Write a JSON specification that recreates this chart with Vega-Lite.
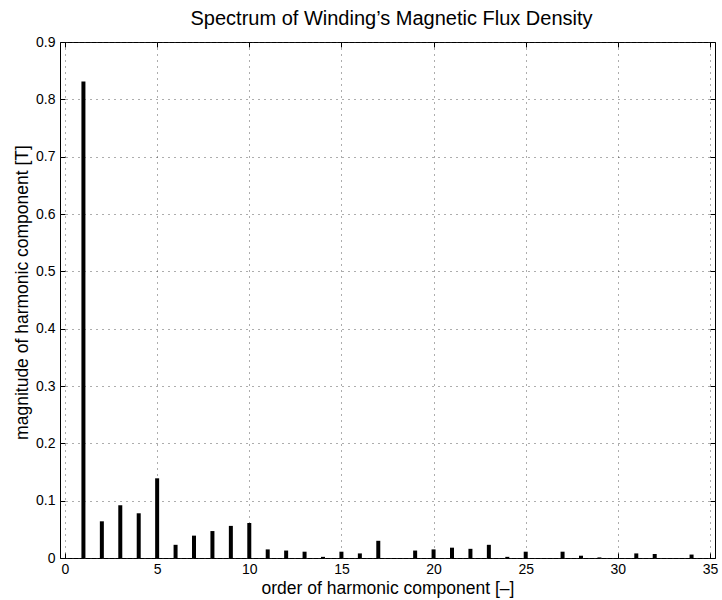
{
  "$schema": "https://vega.github.io/schema/vega-lite/v6.json",
  "width": 655,
  "height": 516,
  "autosize": {"type": "none"},
  "padding": {"left": 60, "top": 42, "right": 7, "bottom": 42},
  "background": "white",
  "config": {
    "font": "Liberation Sans",
    "view": {"stroke": "black", "strokeWidth": 1},
    "axis": {
      "labelFont": "Liberation Sans",
      "titleFont": "Liberation Sans",
      "labelFontSize": 14,
      "titleFontSize": 17.5,
      "labelColor": "black",
      "titleColor": "black",
      "titleFontWeight": "normal",
      "domain": false,
      "tickColor": "black",
      "tickSize": -5,
      "gridColor": "#333333",
      "gridDash": [1, 5],
      "gridOpacity": 0.8,
      "gridWidth": 1
    }
  },
  "title": {
    "text": "Spectrum of Winding’s Magnetic Flux Density",
    "font": "Liberation Sans",
    "fontSize": 20,
    "fontWeight": "normal",
    "color": "black",
    "offset": 6,
    "dx": 4,
    "anchor": "middle"
  },
  "data": {
    "values": [
      {"order": 1, "magnitude": 0.831},
      {"order": 2, "magnitude": 0.064},
      {"order": 3, "magnitude": 0.092},
      {"order": 4, "magnitude": 0.078},
      {"order": 5, "magnitude": 0.139},
      {"order": 6, "magnitude": 0.023},
      {"order": 7, "magnitude": 0.039},
      {"order": 8, "magnitude": 0.047},
      {"order": 9, "magnitude": 0.056},
      {"order": 10, "magnitude": 0.061},
      {"order": 11, "magnitude": 0.015},
      {"order": 12, "magnitude": 0.013},
      {"order": 13, "magnitude": 0.011},
      {"order": 14, "magnitude": 0.002},
      {"order": 15, "magnitude": 0.011},
      {"order": 16, "magnitude": 0.008},
      {"order": 17, "magnitude": 0.030},
      {"order": 18, "magnitude": 0.0},
      {"order": 19, "magnitude": 0.013},
      {"order": 20, "magnitude": 0.015},
      {"order": 21, "magnitude": 0.018},
      {"order": 22, "magnitude": 0.016},
      {"order": 23, "magnitude": 0.023},
      {"order": 24, "magnitude": 0.002},
      {"order": 25, "magnitude": 0.011},
      {"order": 26, "magnitude": 0.0},
      {"order": 27, "magnitude": 0.011},
      {"order": 28, "magnitude": 0.004},
      {"order": 29, "magnitude": 0.001},
      {"order": 30, "magnitude": 0.0},
      {"order": 31, "magnitude": 0.008},
      {"order": 32, "magnitude": 0.007},
      {"order": 33, "magnitude": 0.0},
      {"order": 34, "magnitude": 0.006}
    ]
  },
  "layer": [
    {
      "mark": {"type": "bar", "color": "black", "size": 4, "orient": "vertical"},
      "encoding": {
        "x": {
          "field": "order",
          "type": "quantitative",
          "scale": {"domain": [0, 35], "nice": false, "zero": false},
          "axis": {
            "orient": "bottom",
            "title": "order of harmonic component [–]",
            "values": [0, 5, 10, 15, 20, 25, 30, 35],
            "labelPadding": 9,
            "titleY": 35,
            "titleBaseline": "alphabetic",
            "grid": true
          }
        },
        "y": {
          "field": "magnitude",
          "type": "quantitative",
          "scale": {"domain": [0, 0.9], "nice": false},
          "axis": {
            "orient": "left",
            "title": "magnitude of harmonic component [T]",
            "values": [0, 0.1, 0.2, 0.3, 0.4, 0.5, 0.6, 0.7, 0.8, 0.9],
            "format": "~g",
            "labelPadding": 10,
            "titlePadding": 4,
            "titleY": 250,
            "grid": true
          }
        }
      }
    },
    {
      "mark": {"type": "point", "opacity": 0},
      "encoding": {
        "x": {
          "field": "order",
          "type": "quantitative",
          "scale": {"domain": [0, 35], "nice": false, "zero": false},
          "axis": {
            "orient": "top",
            "title": null,
            "labels": false,
            "values": [0, 5, 10, 15, 20, 25, 30, 35],
            "grid": false
          }
        },
        "y": {
          "field": "magnitude",
          "type": "quantitative",
          "scale": {"domain": [0, 0.9], "nice": false},
          "axis": {
            "orient": "right",
            "title": null,
            "labels": false,
            "values": [0, 0.1, 0.2, 0.3, 0.4, 0.5, 0.6, 0.7, 0.8, 0.9],
            "grid": false
          }
        }
      }
    }
  ],
  "resolve": {"axis": {"x": "independent", "y": "independent"}}
}
